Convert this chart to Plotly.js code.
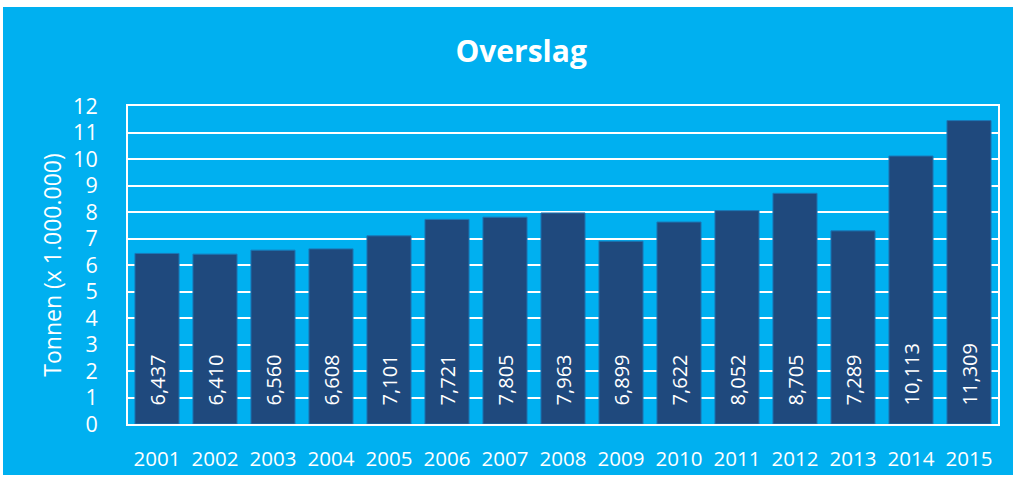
<!DOCTYPE html>
<html>
<head>
<meta charset="utf-8">
<script src="https://cdn.plot.ly/plotly-3.0.1.min.js"></script>
<style>
  body { margin: 0; background: #ffffff; }
  #plot1 { position: absolute; left: 3px; top: 7px; width: 1010px; height: 468px; }
</style>
</head>
<body>
<div id="plot1"></div>
<script>
// jaren en overslag (x 1.000.000 ton)
var years = ['2001', '2002', '2003', '2004', '2005', '2006', '2007', '2008',
  '2009', '2010', '2011', '2012', '2013', '2014', '2015'];
var tonnen = [6.437, 6.410, 6.560, 6.608, 7.101, 7.721, 7.805, 7.963,
  6.899, 7.622, 8.052, 8.705, 7.289, 10.113, 11.45];
var labels = ['6,437', '6,410', '6,560', '6,608', '7,101', '7,721', '7,805', '7,963',
  '6,899', '7,622', '8,052', '8,705', '7,289', '10,113', '11,309'];

function draw() {
  try {
    var pad = '\u00a0\u00a0\u00a0';
    var overslag = {
      x: years,
      y: tonnen,
      type: 'bar',
      text: labels.map(function (t) { return pad + t; }),
      textposition: 'inside',
      insidetextanchor: 'start',
      textangle: -90,
      textfont: { color: '#ffffff', size: 20, family: 'Open Sans' },
      marker: { color: '#1F497D', line: { color: '#1a78b8', width: 1 } },
      hoverinfo: 'none'
    };

    var layout = {
      title: {
        text: '<b>Overslag</b>',
        font: { family: 'Open Sans', size: 30, color: '#ffffff' },
        x: 0.513, xanchor: 'center', y: 0.905, yanchor: 'middle'
      },
      paper_bgcolor: '#00B0F0',
      plot_bgcolor: '#00B0F0',
      margin: { l: 125, r: 15, t: 99, b: 51 },
      bargap: 0.24,
      showlegend: false,
      font: { family: 'Open Sans', color: '#ffffff' },
      xaxis: {
        type: 'category',
        tickfont: { size: 20.5, color: '#ffffff' },
        ticklabelstandoff: 15,
        showline: true, mirror: true, linecolor: '#ffffff', linewidth: 2,
        showgrid: false
      },
      yaxis: {
        range: [0, 12],
        dtick: 1,
        tickfont: { size: 21.5, color: '#ffffff' },
        ticklabelstandoff: 24,
        showline: true, mirror: true, linecolor: '#ffffff', linewidth: 2,
        gridcolor: '#ffffff', gridwidth: 2,
        zeroline: false,
        title: { text: 'Tonnen (x 1.000.000)', font: { size: 23, color: '#ffffff' }, standoff: 5 }
      }
    };

    Plotly.newPlot('plot1', [overslag], layout, { displayModeBar: false, staticPlot: true });
  }
  catch (err) {
    console.error(err);
  }
}
draw();
</script>
</body>
</html>
